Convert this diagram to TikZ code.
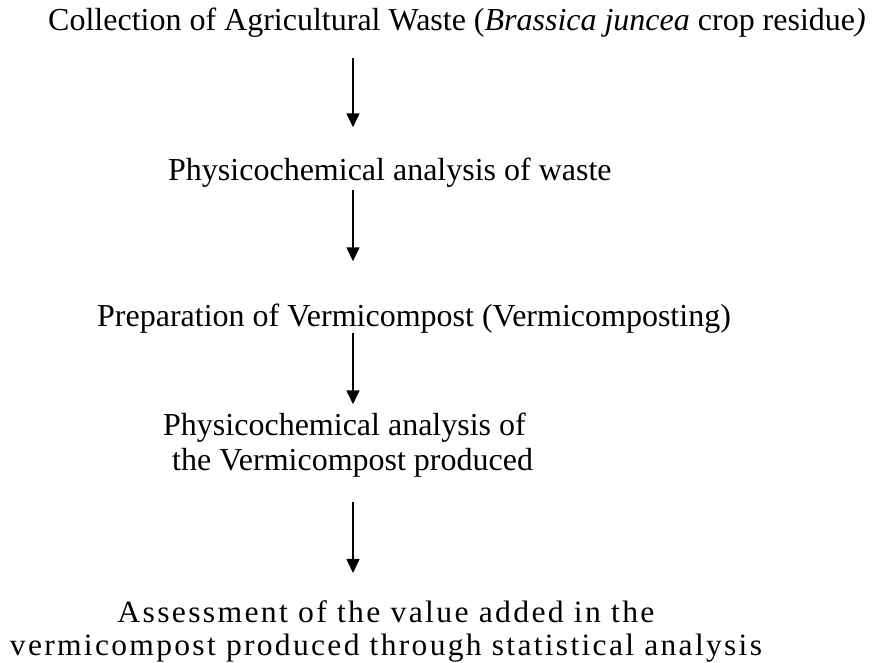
\documentclass[tikz,border=0pt]{standalone}
\usepackage{fontspec}
\setmainfont{Liberation Serif}
\usetikzlibrary{arrows.meta}
\newcommand{\fitw}[2]{\resizebox{#1}{\height}{#2}}
\begin{document}
\begin{tikzpicture}[x=1pt,y=-1pt,
  lbl/.style={inner sep=0pt, anchor=base west, font=\fontsize{32}{35}\selectfont},
  arr/.style={line width=1.6pt, -{Triangle[width=13pt,length=14pt]}}]
\useasboundingbox (0,0) rectangle (872,663);
\coordinate (ax) at (353,0);
\node[lbl] (t1) at (48,31)
  {Collection of Agricultural Waste (\textit{Brassica juncea} crop residue\textit{)}};
\node[lbl] (t2) at (168,181)
  {Physicochemical analysis of waste};
\node[lbl] (t3) at (97,326)
  {Preparation of Vermicompost (Vermicomposting)};
\node[lbl, align=left] (t4) at (163,470)
  {Physicochemical analysis of\\\hspace*{9pt}the Vermicompost produced};
\node[lbl, anchor=base, align=center, font=\fontsize{31}{33}\selectfont\addfontfeature{LetterSpace=7.3}] (t5) at (386,655)
  {\fitw{537pt}{Assessment of the value added in the}\\\fitw{752pt}{vermicompost produced through statistical analysis}};
\draw[arr, shorten <=20pt, shorten >=31pt] (t1.south -| ax) -- (t2.north -| ax);
\draw[arr, shorten <=2pt, shorten >=42pt] (t2.south -| ax) -- (t3.north -| ax);
\draw[arr, shorten <=0pt, shorten >=8pt] (t3.south -| ax) -- (t4.north -| ax);
\draw[arr, shorten <=25pt, shorten >=27pt] (t4.south -| ax) -- (t5.north -| ax);
\end{tikzpicture}
\end{document}
